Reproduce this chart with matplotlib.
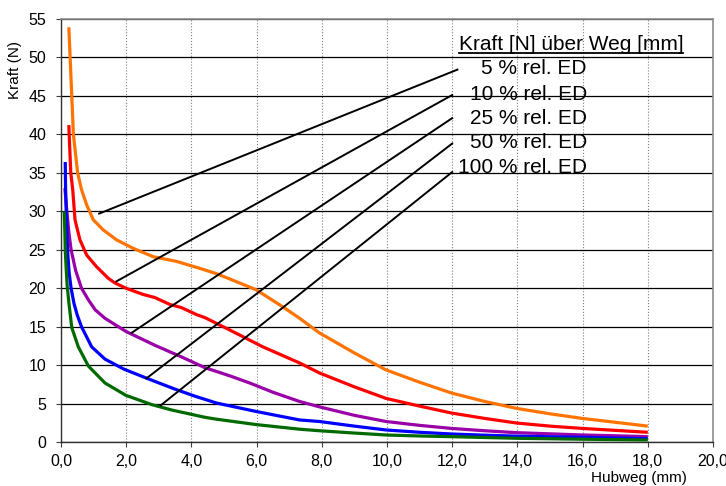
import numpy as np
import matplotlib
matplotlib.use('Agg')
import matplotlib.pyplot as plt
from matplotlib.lines import Line2D
from matplotlib.ticker import FuncFormatter, MultipleLocator

x_100 = [0.10, 0.12, 0.13, 0.16, 0.19, 0.245, 0.33, 0.53, 0.84, 1.35, 1.99, 2.78, 3.39,
         4.41, 4.77, 5.99, 7.32, 7.93, 9.0, 9.97, 11.0, 12.0, 13.0, 14.0, 15.0, 16.0, 17.0, 18.0]
y_100 = [30.0, 27.0, 25.0, 22.5, 20.3, 18.0, 14.9, 12.4, 9.9, 7.7, 6.1, 4.9, 4.2,
         3.25, 3.0, 2.3, 1.7, 1.5, 1.2, 0.95, 0.82, 0.73, 0.62, 0.52, 0.46, 0.40, 0.35, 0.30]

x_50 = [0.13, 0.14, 0.16, 0.20, 0.25, 0.31, 0.40, 0.50, 0.63, 0.94, 1.35, 1.93, 2.70, 3.50,
        4.10, 4.77, 5.99, 7.32, 7.93, 9.0, 9.97, 11.0, 11.98, 13.0, 13.98, 15.0, 16.0, 17.0, 18.0]
y_50 = [36.4, 33.0, 30.0, 25.0, 22.0, 20.0, 18.0, 16.5, 15.0, 12.4, 10.8, 9.5, 8.2, 6.9,
        6.0, 5.1, 4.0, 2.9, 2.7, 2.1, 1.6, 1.3, 1.08, 0.92, 0.80, 0.72, 0.65, 0.55, 0.47]

x_25 = [0.12, 0.15, 0.18, 0.24, 0.31, 0.45, 0.63, 0.84, 1.05, 1.35, 1.99, 2.88, 3.69, 4.41,
        5.2, 5.79, 6.5, 7.32, 7.93, 9.0, 9.97, 11.0, 11.98, 13.0, 13.98, 15.0, 16.0, 17.0, 18.0]
y_25 = [33.0, 31.5, 30.0, 27.3, 25.0, 22.3, 20.0, 18.5, 17.2, 16.1, 14.4, 12.6, 11.1, 9.7,
        8.6, 7.7, 6.5, 5.3, 4.6, 3.5, 2.7, 2.2, 1.8, 1.5, 1.25, 1.1, 0.95, 0.85, 0.73]

x_10 = [0.24, 0.26, 0.30, 0.36, 0.43, 0.58, 0.79, 1.09, 1.45, 1.65, 2.0, 2.52, 2.88, 3.34,
        3.69, 4.15, 4.41, 5.17, 6.19, 7.32, 7.93, 9.0, 9.97, 11.0, 11.98, 13.0, 13.98, 15.0,
        16.0, 17.0, 18.0]
y_10 = [41.2, 39.0, 35.0, 32.8, 28.9, 26.3, 24.3, 22.8, 21.3, 20.7, 20.0, 19.2, 18.8, 17.9,
        17.5, 16.6, 16.2, 14.6, 12.4, 10.3, 9.0, 7.2, 5.7, 4.7, 3.8, 3.1, 2.5, 2.1,
        1.8, 1.55, 1.3]

x_5 = [0.24, 0.28, 0.33, 0.38, 0.51, 0.63, 0.79, 0.99, 1.29, 1.70, 2.21, 2.83, 3.54, 4.25,
       4.77, 5.3, 5.99, 6.8, 7.32, 7.93, 9.0, 9.97, 11.0, 11.98, 13.0, 13.98, 15.0, 15.99, 17.0, 18.0]
y_5 = [53.9, 50.0, 45.0, 40.0, 35.0, 32.8, 30.8, 28.9, 27.6, 26.3, 25.2, 24.1, 23.5, 22.6,
       21.9, 21.0, 19.8, 17.6, 16.1, 14.2, 11.6, 9.4, 7.8, 6.4, 5.3, 4.4, 3.7, 3.1, 2.6, 2.1]

etiquettes = ['5 % rel. ED', '10 % rel. ED', '25 % rel. ED', '50 % rel. ED', '100 % rel. ED']
titre_legende = 'Kraft [N] über Weg [mm]'

# Traits de repère : (départ sur la courbe, arrivée près de l'étiquette)
repere_x0 = [1.17, 1.70, 2.16, 2.62, 3.06]
repere_y0 = [29.7, 20.9, 14.2, 8.3, 4.8]
repere_x1 = [12.16, 12.0, 12.0, 12.0, 12.0]
repere_y1 = [48.4, 45.1, 42.1, 38.8, 35.1]
etiq_y = [48.5, 45.2, 42.1, 38.9, 35.7]

courbes = [(x_5, y_5, '#ff7300'),
           (x_10, y_10, '#ff0000'),
           (x_25, y_25, '#9900a8'),
           (x_50, y_50, '#0000ff'),
           (x_100, y_100, '#006a00')]

plt.rcParams['font.family'] = ['Liberation Sans', 'DejaVu Sans']

fig = plt.figure(figsize=(7.26, 4.86), dpi=100)
ax = fig.add_axes([61 / 726, 1 - 442.3 / 486, (713 - 61) / 726, (442.3 - 18.8) / 486])

for xs, ys, couleur in courbes:
    ax.plot(xs, ys, color=couleur, lw=2.3, solid_capstyle='butt',
            solid_joinstyle='round', zorder=3)

for x0, y0, x1, y1 in zip(repere_x0, repere_y0, repere_x1, repere_y1):
    ax.plot([x0, x1], [y0, y1], color='black', lw=1.4, zorder=4)

for lab, y in zip(etiquettes, etiq_y):
    ax.text(16.13, y, lab, ha='right', va='center', fontsize=15, zorder=5)

t = ax.text(15.64, 51.6, titre_legende, ha='center', va='center', fontsize=15, zorder=5)

ax.set_xlim(0, 20)
ax.set_ylim(0, 55)
ax.xaxis.set_major_locator(MultipleLocator(2))
ax.yaxis.set_major_locator(MultipleLocator(5))
ax.xaxis.set_major_formatter(FuncFormatter(lambda v, p: f'{v:.1f}'.replace('.', ',')))
ax.tick_params(axis='both', direction='out', length=3.6, width=0.8, labelsize=11.5, color='#404040')
ax.tick_params(axis='x', pad=5)
ax.tick_params(axis='y', pad=7)

# Quadrillage : horizontal plein noir, vertical pointillé gris
ax.yaxis.grid(True, color='black', lw=0.9, ls='-')
ax.xaxis.grid(True, color='#7f7f7f', lw=0.8, ls=':')
ax.set_axisbelow(True)

for cote in ['top', 'right']:
    ax.spines[cote].set_color('#8c8c8c')
    ax.spines[cote].set_linewidth(1.2)
for cote in ['left', 'bottom']:
    ax.spines[cote].set_color('#303030')
    ax.spines[cote].set_linewidth(1.0)

fig.text(15 / 726, 1 - 70 / 486, 'Kraft (N)', rotation=90, ha='center', va='center', fontsize=11)
fig.text(639 / 726, 1 - 481.7 / 486, 'Hubweg (mm)', ha='center', va='baseline', fontsize=11)

# Soulignement du titre de la légende
fig.canvas.draw()
bb = t.get_window_extent(fig.canvas.get_renderer()).transformed(fig.transFigure.inverted())
fig.add_artist(Line2D([bb.x0, bb.x1], [bb.y0 + 0.004, bb.y0 + 0.004],
                      transform=fig.transFigure, color='black', lw=1.3))

fig.savefig('out.png', dpi=100)
